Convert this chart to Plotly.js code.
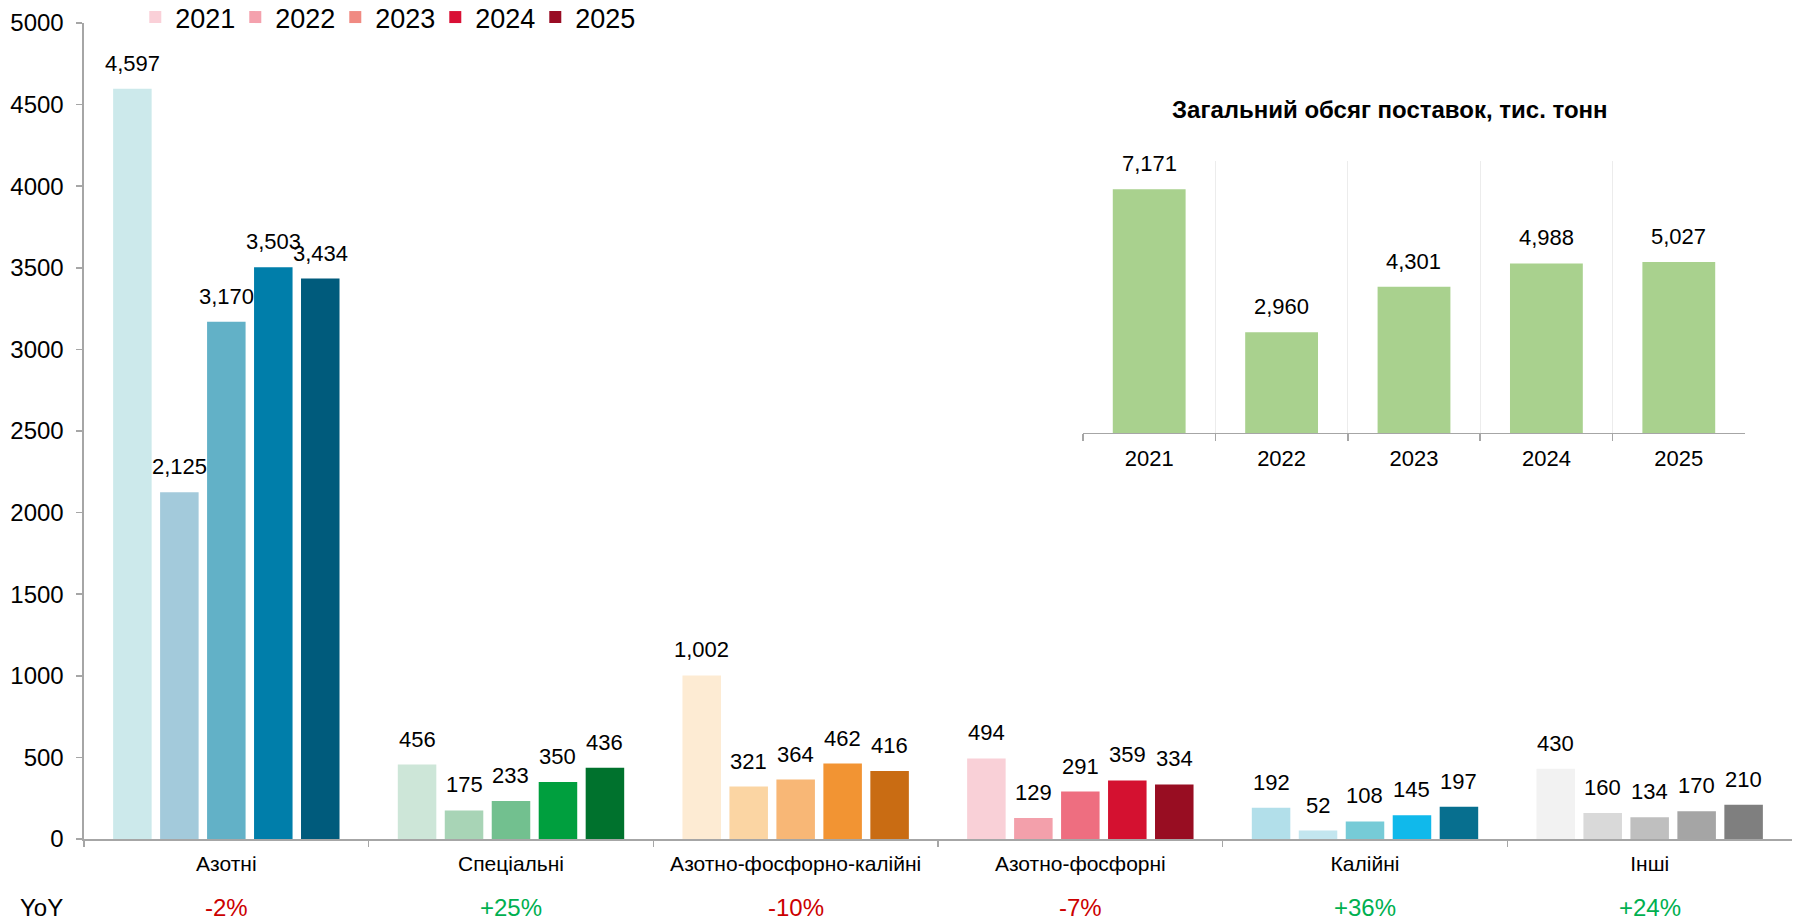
<!DOCTYPE html>
<html>
<head>
<meta charset="utf-8">
<script src="https://cdn.plot.ly/plotly-3.0.1.min.js"></script>
<style>html,body{margin:0;padding:0;background:#fff;}#chart{width:1799px;height:920px;}</style>
</head>
<body>
<div id="chart"></div>
<script>
const categories = ['Азотні','Спеціальні','Азотно-фосфорно-калійні','Азотно-фосфорні','Калійні','Інші'];
const years = ['2021','2022','2023','2024','2025'];
const v2021 = [4597,456,1002,494,192,430];
const v2022 = [2125,175,321,129,52,160];
const v2023 = [3170,233,364,291,108,134];
const v2024 = [3503,350,462,359,145,170];
const v2025 = [3434,436,416,334,197,210];
const yoy = ['-2%','+25%','-10%','-7%','+36%','+24%'];
const totalYears = ['2021','2022','2023','2024','2025'];
const totals = [7171,2960,4301,4988,5027];

const c2021 = ['#cce9eb','#cde6d8','#fdebd3','#f9d0d7','#b2dfea','#f2f2f2'];
const c2022 = ['#a3cadb','#a8d4b6','#fbd5a3','#f3a0ab','#c3e6ef','#d9d9d9'];
const c2023 = ['#62b1c7','#72c08f','#f8b776','#ee6e80','#76cbd7','#bfbfbf'];
const c2024 = ['#007eaa','#009f3e','#f29433','#d41130','#10b9eb','#a5a5a5'];
const c2025 = ['#005b7c','#00722d','#c96c13','#980d22','#076f8f','#7f7f7f'];
const legendColors = ['#fad0d8','#f4a1ad','#f08a82','#d91035','#990c24'];

const series = [v2021,v2022,v2023,v2024,v2025];
const colors = [c2021,c2022,c2023,c2024,c2025];

const FONT = 'Liberation Sans, Arial, sans-serif';
const BARGAP = 0.175;
const GRID = '#a6a6a6';

const traces = [];
series.forEach((vals, j) => {
  traces.push({
    type:'bar', x:categories, y:vals, name:years[j],
    marker:{color:colors[j], line:{width:0}},
    showlegend:false, hoverinfo:'skip', xaxis:'x', yaxis:'y'
  });
});
// legend keys
years.forEach((yr, j) => {
  traces.push({
    type:'bar', x:[categories[0]], y:[null], name:yr,
    marker:{color:legendColors[j]}, showlegend:true,
    xaxis:'x3', yaxis:'y3', hoverinfo:'skip'
  });
});
// inset
traces.push({
  type:'bar', x:totalYears, y:totals, width:0.55,
  marker:{color:'#a9d18e'}, showlegend:false, hoverinfo:'skip',
  xaxis:'x2', yaxis:'y2'
});

const annotations = [];
const slot = (1 - BARGAP) / years.length;
series.forEach((vals, j) => {
  vals.forEach((v, i) => {
    annotations.push({
      x: i + (j - (years.length - 1) / 2) * slot, y: v, xref:'x', yref:'y',
      text: v.toLocaleString('en-US'), showarrow:false,
      yanchor:'bottom', yshift:11,
      font:{family:FONT, size:22, color:'#000'}
    });
  });
});
totals.forEach((v, i) => {
  annotations.push({
    x: i, y: v, xref:'x2', yref:'y2',
    text: v.toLocaleString('en-US'), showarrow:false,
    yanchor:'bottom', yshift:11,
    font:{family:FONT, size:22, color:'#000'}
  });
});
yoy.forEach((t, i) => {
  annotations.push({
    x: i, y: 0.0141, xref:'x', yref:'paper', yanchor:'middle',
    text: t, showarrow:false,
    font:{family:FONT, size:24, color: t.startsWith('-') ? '#cc0000' : '#00b050'}
  });
});
annotations.push({
  x: 0.0231, y: 0.0141, xref:'paper', yref:'paper', yanchor:'middle', xanchor:'center',
  text:'YoY', showarrow:false, font:{family:FONT, size:24, color:'#000'}
});
annotations.push({
  x: 0.7724, y: 0.8815, xref:'paper', yref:'paper', xanchor:'center', yanchor:'middle',
  text:'<b>Загальний обсяг поставок, тис. тонн</b>', showarrow:false,
  font:{family:FONT, size:24, color:'#000'}
});

const layout = {
  width:1799, height:920,
  margin:{l:0, r:0, t:0, b:0, autoexpand:false},
  paper_bgcolor:'#fff', plot_bgcolor:'rgba(0,0,0,0)',
  font:{family:FONT, size:22, color:'#000'},
  barmode:'group', bargap:BARGAP, bargroupgap:0.18,
  showlegend:true,
  legend:{orientation:'h', x:0.0752, xanchor:'left', y:1.0076, yanchor:'top',
    font:{family:FONT, size:27, color:'#000'}, bgcolor:'rgba(0,0,0,0)',
    entrywidth:55, entrywidthmode:'pixels', traceorder:'normal'},
  xaxis:{domain:[0.04669, 0.99611], type:'category', showline:true, linecolor:GRID, linewidth:1.5,
    ticks:'outside', tickson:'boundaries', ticklen:6, tickcolor:GRID, tickwidth:1.5,
    showgrid:false, zeroline:false, fixedrange:true, ticklabelstandoff:5,
    tickfont:{family:FONT, size:21, color:'#000'}, anchor:'y'},
  yaxis:{domain:[0.08804, 0.975], range:[0,5000], dtick:500, tickformat:'d',
    showline:true, linecolor:GRID, linewidth:1.5, ticks:'outside', ticklen:6, tickcolor:GRID,
    tickwidth:1.5, showgrid:false, zeroline:false, fixedrange:true, ticklabelstandoff:8,
    tickfont:{family:FONT, size:24, color:'#000'}, anchor:'x'},
  xaxis2:{domain:[0.60200, 0.96998], type:'category', anchor:'y2', showline:true, linecolor:GRID,
    linewidth:1.5, ticks:'outside', tickson:'boundaries', ticklen:7, tickcolor:GRID, tickwidth:1.5,
    showgrid:true, gridcolor:'#ececec', gridwidth:1, zeroline:false, fixedrange:true,
    ticklabelstandoff:5,
    tickfont:{family:FONT, size:22, color:'#000'}},
  yaxis2:{domain:[0.52935, 0.825], range:[0,8000], anchor:'x2', visible:false, fixedrange:true},
  xaxis3:{domain:[0,0.001], anchor:'y3', visible:false},
  yaxis3:{domain:[0,0.001], anchor:'x3', visible:false},
  annotations:annotations
};

Plotly.newPlot('chart', traces, layout, {displayModeBar:false, staticPlot:true});
</script>
</body>
</html>
